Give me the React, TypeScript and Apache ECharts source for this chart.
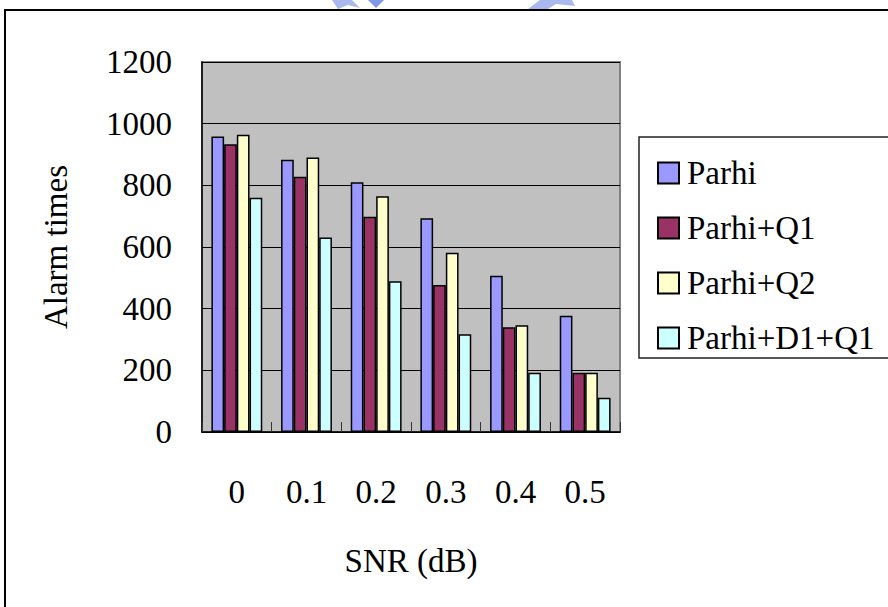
import React, { useEffect, useRef } from "react";
import * as echarts from "echarts";

const categories = ["0", "0.1", "0.2", "0.3", "0.4", "0.5"];
const seriesNames = ["Parhi", "Parhi+Q1", "Parhi+Q2", "Parhi+D1+Q1"];
const parhi = [958, 883, 810, 693, 507, 377];
const parhiQ1 = [933, 828, 698, 477, 340, 192];
const parhiQ2 = [964, 890, 765, 581, 346, 192];
const parhiD1Q1 = [760, 631, 489, 317, 192, 111];
const colors = ["#9999ff", "#993366", "#ffffcc", "#ccffff"];
const yTicks = { min: 0, max: 1200, interval: 200 };
const xTitle = "SNR (dB)";
const yTitle = "Alarm times";

const FONT = "'Liberation Serif', 'Times New Roman', serif";

export default function App() {
  const ref = useRef<HTMLDivElement>(null);
  useEffect(() => {
    if (!ref.current) return;
    const chart = echarts.init(ref.current, undefined, { renderer: "svg" });
    const values = [parhi, parhiQ1, parhiQ2, parhiD1Q1];
    chart.setOption({
      animation: false,
      backgroundColor: "#ffffff",
      textStyle: { fontFamily: FONT, color: "#000" },
      graphic: [
        {
          type: "rect",
          silent: true,
          shape: { x: 5, y: 10, width: 1000, height: 1000 },
          style: { fill: "none", stroke: "#000", lineWidth: 2 },
        },
        {
          type: "rect",
          silent: true,
          shape: { x: 639, y: 137, width: 400, height: 221 },
          style: { fill: "#fff", stroke: "#222", lineWidth: 1.5 },
          z: -1,
        },
        {
          type: "polygon",
          silent: true,
          shape: { points: [[332, 0], [352, 0], [360, 8], [348, 5], [338, 9]] },
          style: { fill: "#a9b9ee" },
        },
        {
          type: "polygon",
          silent: true,
          shape: { points: [[368, 0], [384, 0], [376, 8]] },
          style: { fill: "#7f98e6" },
        },
        {
          type: "polygon",
          silent: true,
          shape: { points: [[528, 9], [540, 0], [572, 0], [575, 6], [556, 4], [548, 9]] },
          style: { fill: "#a9b9ee" },
        },
      ],
      legend: {
        orient: "vertical",
        left: 652,
        top: 151,
        itemWidth: 21,
        itemHeight: 21,
        itemGap: 21,
        icon: "rect",
        data: seriesNames,
        textStyle: {
          fontFamily: FONT,
          fontSize: 33,
          lineHeight: 34,
          color: "#000",
          padding: [0, 0, 0, 3],
        },
      },
      grid: {
        left: 202,
        top: 62,
        right: 268,
        bottom: 175,
        show: true,
        backgroundColor: "#c0c0c0",
        borderColor: "#808080",
        borderWidth: 2,
      },
      xAxis: {
        type: "category",
        data: categories,
        boundaryGap: true,
        name: xTitle,
        nameLocation: "middle",
        nameGap: 112,
        nameTextStyle: { fontFamily: FONT, fontSize: 33, color: "#000" },
        axisLine: { show: true, lineStyle: { color: "#000", width: 1.5 } },
        axisTick: { show: true, inside: true, length: 10, alignWithLabel: false, lineStyle: { color: "#333", width: 1 } },
        axisLabel: { fontFamily: FONT, fontSize: 33, color: "#000", margin: 43 },
        splitLine: { show: false },
      },
      yAxis: {
        type: "value",
        min: yTicks.min,
        max: yTicks.max,
        interval: yTicks.interval,
        name: yTitle,
        nameLocation: "middle",
        nameGap: 130,
        nameRotate: 90,
        nameTextStyle: { fontFamily: FONT, fontSize: 33, color: "#000" },
        axisLine: { show: true, lineStyle: { color: "#000", width: 1.5 } },
        axisTick: { show: true, inside: true, length: 4, lineStyle: { color: "#000" } },
        axisLabel: {
          fontFamily: FONT,
          fontSize: 33,
          color: "#000",
          margin: 30,
          formatter: (v: number) => String(v),
        },
        splitLine: { show: true, lineStyle: { color: "#000", width: 1 } },
      },
      series: seriesNames.map((name, i) => ({
        name,
        type: "bar",
        data: values[i],
        barGap: "0%",
        barCategoryGap: "27%",
        itemStyle: { color: colors[i], borderColor: "#000", borderWidth: 1.5 },
      })),
    });
    return () => chart.dispose();
  }, []);
  return <div ref={ref} style={{ width: 888, height: 607, position: "absolute", left: 0, top: 0 }} />;
}
